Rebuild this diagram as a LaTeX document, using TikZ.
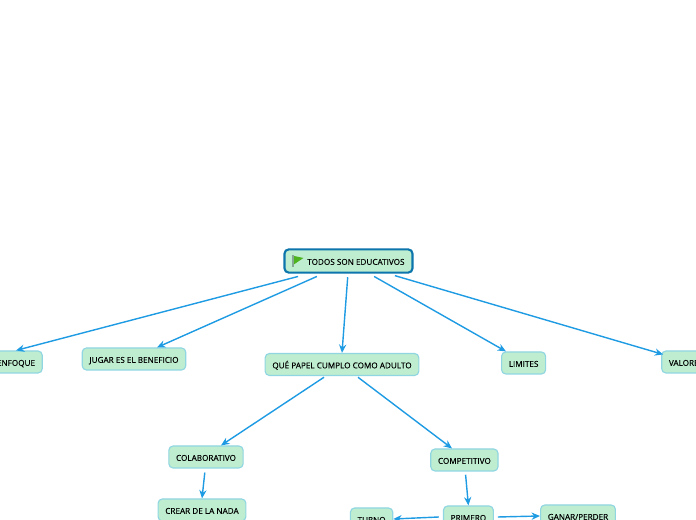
\documentclass[tikz,border=0pt]{standalone}
\usepackage{fontspec}
\setmainfont{Open Sans}[FakeBold=0.2]
\usetikzlibrary{arrows.meta}
\definecolor{topicfill}{HTML}{BEEDD0}
\definecolor{topicline}{HTML}{8FD6E2}
\definecolor{rootline}{HTML}{0B75AC}
\definecolor{linkblue}{HTML}{1E9BE2}
\definecolor{flaggreen}{HTML}{4DB31F}
\begin{document}
\begin{tikzpicture}[
  topic/.style={draw=topicline, fill=topicfill, rounded corners=3pt, line width=0.8pt, font=\fontsize{5.8}{7}\selectfont, text height=5.5pt, text depth=0pt, minimum height=0.55cm, inner xsep=0.18cm, inner ysep=0pt},
  roottopic/.style={topic, draw=rootline, line width=1.5pt, minimum height=0.58cm, minimum width=3.2cm},
  link/.style={-{Stealth[length=2.1mm, width=1.8mm]}, linkblue, line width=1pt}
]
\clip (0,0) rectangle (17.4,13);
\node[roottopic] (root)    at (8.7125,6.475) {\hspace*{0.37cm}TODOS SON EDUCATIVOS};
\node[topic] (enfoque)     at (0.4,3.95)     {ENFOQUE};
\node[topic] (jugar)       at (3.35,4.025)   {JUGAR ES EL BENEFICIO};
\node[topic] (papel)       at (8.55,3.8875)  {QUÉ PAPEL CUMPLO COMO ADULTO};
\node[topic] (limites)     at (13.09,3.925)  {LIMITES};
\node[topic] (valores)     at (17.15,3.95)   {VALORES};
\node[topic] (colab)       at (5.15,1.575)   {COLABORATIVO};
\node[topic] (crear)       at (5.05,0.25)    {CREAR DE LA NADA};
\node[topic] (compet)      at (11.61,1.5)    {COMPETITIVO};
\node[topic] (turno)       at (9.29,0.025)   {TURNO};
\node[topic] (primero)     at (11.71,0.075)  {PRIMERO};
\node[topic] (ganar)       at (14.45,0.1)    {GANAR/PERDER};

% flag
\begin{scope}[shift={(root.west)}]
\fill[black!30!topicfill] (0.21,-0.15) rectangle (0.27,0.15);
\fill[flaggreen] (0.27,0.125) -- (0.5,0.075) -- (0.27,-0.08) -- cycle;
\end{scope}

\draw[link] ([shift={(-1.26,-0.07)}]root.south) -- (enfoque.north);
\draw[link] ([shift={(-0.79,-0.07)}]root.south) -- ([xshift=0.575cm]jugar.north);
\draw[link] ([shift={(-0.02,-0.09)}]root.south) -- (papel.north);
\draw[link] ([shift={(0.64,-0.07)}]root.south)  -- ([xshift=-0.44cm]limites.north);
\draw[link] ([shift={(1.16,-0.05)}]root.south)  -- ([shift={(0.05,-0.1)}]valores.north west);
\draw[link] ([shift={(-0.45,-0.03)}]papel.south) -- ([xshift=0.375cm]colab.north);
\draw[link] ([shift={(0.4,-0.03)}]papel.south)  -- ([xshift=-0.31cm]compet.north);
\draw[link] ([shift={(-0.03,-0.1)}]colab.south) -- (crear.north);
\draw[link] ([shift={(0.03,-0.08)}]compet.south) -- (primero.north);
\draw[link] ([xshift=-0.1cm]primero.west)       -- (turno.east);
\draw[link] ([xshift=0.1cm]primero.east)        -- (ganar.west);
\end{tikzpicture}
\end{document}
